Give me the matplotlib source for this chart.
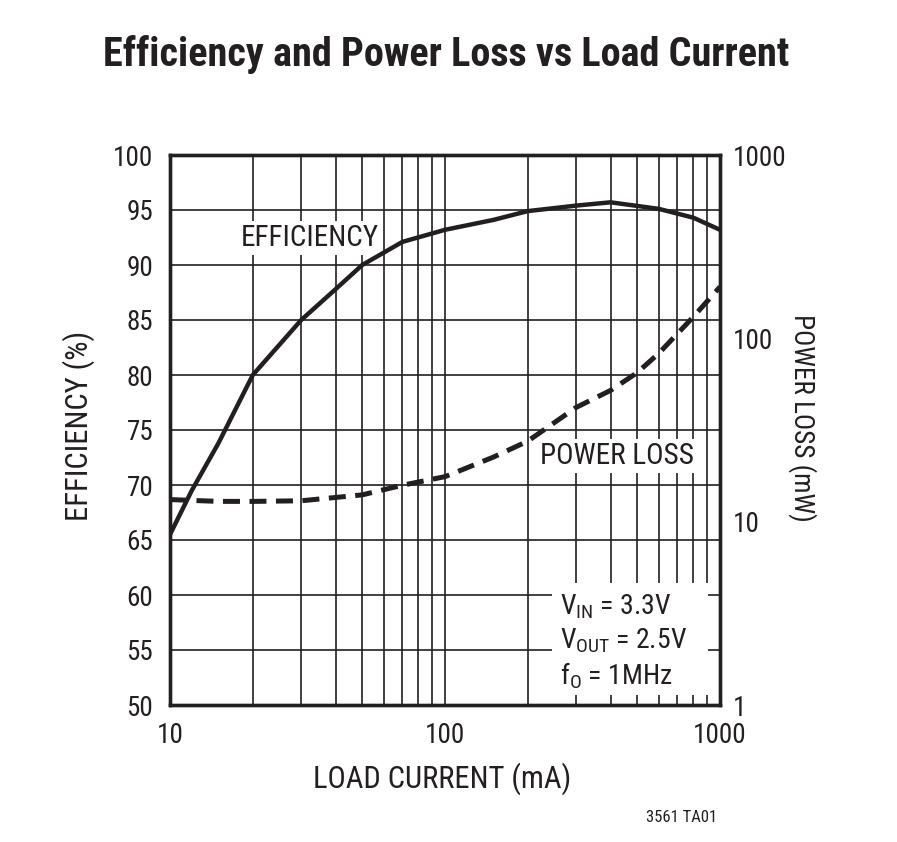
"""Efficiency and power loss vs load current (datasheet style)."""

import matplotlib
matplotlib.use("Agg")
import matplotlib.pyplot as plt
from matplotlib.patches import Rectangle

# efficiency curve (left axis, %)
eff_load = [10, 12, 15, 20, 30, 40, 50, 70, 100, 150, 200, 300, 400, 600, 800, 1000]
eff_pct = [65.5, 69.5, 73.8, 80, 85, 87.8, 90, 92.1, 93.2, 94.1, 94.9, 95.4, 95.7, 95.1, 94.3, 93.2]

# power loss curve (right axis, mW)
loss_load = [10, 15, 20, 30, 50, 70, 100, 150, 200, 300, 400, 500, 600, 800, 1000]
loss_mw = [13.2, 12.9, 12.9, 13.0, 14.0, 15.8, 17.6, 22.5, 27.5, 42, 52, 65, 83, 131, 191]

left_ticks = [50, 55, 60, 65, 70, 75, 80, 85, 90, 95, 100]
right_ticks = [1, 10, 100, 1000]
x_ticks = [10, 100, 1000]

INK = "#231f20"
FONT = ["Roboto Condensed", "Liberation Sans", "DejaVu Sans"]

plt.rcParams["font.family"] = FONT
plt.rcParams["mathtext.fontset"] = "custom"
plt.rcParams["mathtext.rm"] = "Roboto Condensed"
plt.rcParams["mathtext.it"] = "Roboto Condensed"
plt.rcParams["text.color"] = INK

fig = plt.figure(figsize=(8.97, 8.42), dpi=100)
ax = fig.add_axes([170 / 897, 137 / 842, 550 / 897, 550 / 842])

ax.set_xscale("log")
ax.set_xlim(10, 1000)
ax.set_ylim(50, 100)
ax.set_xticks(x_ticks)
ax.set_xticklabels([str(v) for v in x_ticks])
ax.set_yticks(left_ticks)
ax.set_yticklabels([str(v) for v in left_ticks])
ax.tick_params(axis="both", which="both", length=0, labelsize=19.5, colors=INK)
ax.tick_params(axis="x", pad=12)
ax.tick_params(axis="y", pad=12)
ax.grid(True, which="both", axis="x", color=INK, linewidth=1.2)
ax.grid(True, which="major", axis="y", color=INK, linewidth=1.2)
for s in ax.spines.values():
    s.set_linewidth(2.4)
    s.set_color(INK)

ax.plot(eff_load, eff_pct, color=INK, linewidth=3.2, solid_capstyle="butt", zorder=4)

ax2 = ax.twinx()
ax2.set_yscale("log")
ax2.set_ylim(1, 1000)
ax2.set_yticks(right_ticks)
ax2.set_yticklabels([str(v) for v in right_ticks])
ax2.yaxis.set_minor_locator(matplotlib.ticker.NullLocator())
ax2.tick_params(axis="y", which="both", length=0, labelsize=19.5, colors=INK, pad=9)
for s in ax2.spines.values():
    s.set_linewidth(2.4)
    s.set_color(INK)
ax2.plot(loss_load, loss_mw, color=INK, linewidth=3.6, dashes=(3.4, 1.9), zorder=4)

ax.set_xlabel("LOAD CURRENT (mA)", fontsize=22, color=INK)
ax.xaxis.set_label_coords(0.494, -0.1036)
ax.set_ylabel("EFFICIENCY (%)", fontsize=22, color=INK)
ax.yaxis.set_label_coords(-0.136, 0.508)
ax2.set_ylabel("POWER LOSS (mW)", fontsize=19.5, color=INK, rotation=270, va="center")
ax2.yaxis.set_label_coords(1.149, 0.522)

# curve labels with white knock-out behind them
box = dict(facecolor="white", edgecolor="none", pad=2)
ax.text(0.2545, 0.849, "EFFICIENCY", transform=ax.transAxes, fontsize=21,
        ha="center", va="center", bbox=box, zorder=3)
ax.text(0.8127, 0.4527, "POWER LOSS", transform=ax.transAxes, fontsize=21,
        ha="center", va="center", bbox=box, zorder=3)

ax.add_patch(Rectangle((0.6945, 0.018), 0.2835, 0.204, transform=ax.transAxes,
                       facecolor="white", edgecolor="none", zorder=2.5))
cond_lines = [r"V$_{\mathrm{IN}}$ = 3.3V", r"V$_{\mathrm{OUT}}$ = 2.5V", r"f$_{\mathrm{O}}$ = 1MHz"]
for i, line in enumerate(cond_lines):
    ax.text(0.709, 0.178 - i * 0.062, line, transform=ax.transAxes, fontsize=20,
            ha="left", va="center", zorder=3)

fig.text(0.497, 1 - 55 / 842, "Efficiency and Power Loss vs Load Current",
         fontsize=29, fontweight="bold", ha="center", va="center")
fig.text(682 / 897, 1 - 818 / 842, "3561 TA01", fontsize=12, ha="center", va="center")

fig.savefig("out.png", dpi=100)
